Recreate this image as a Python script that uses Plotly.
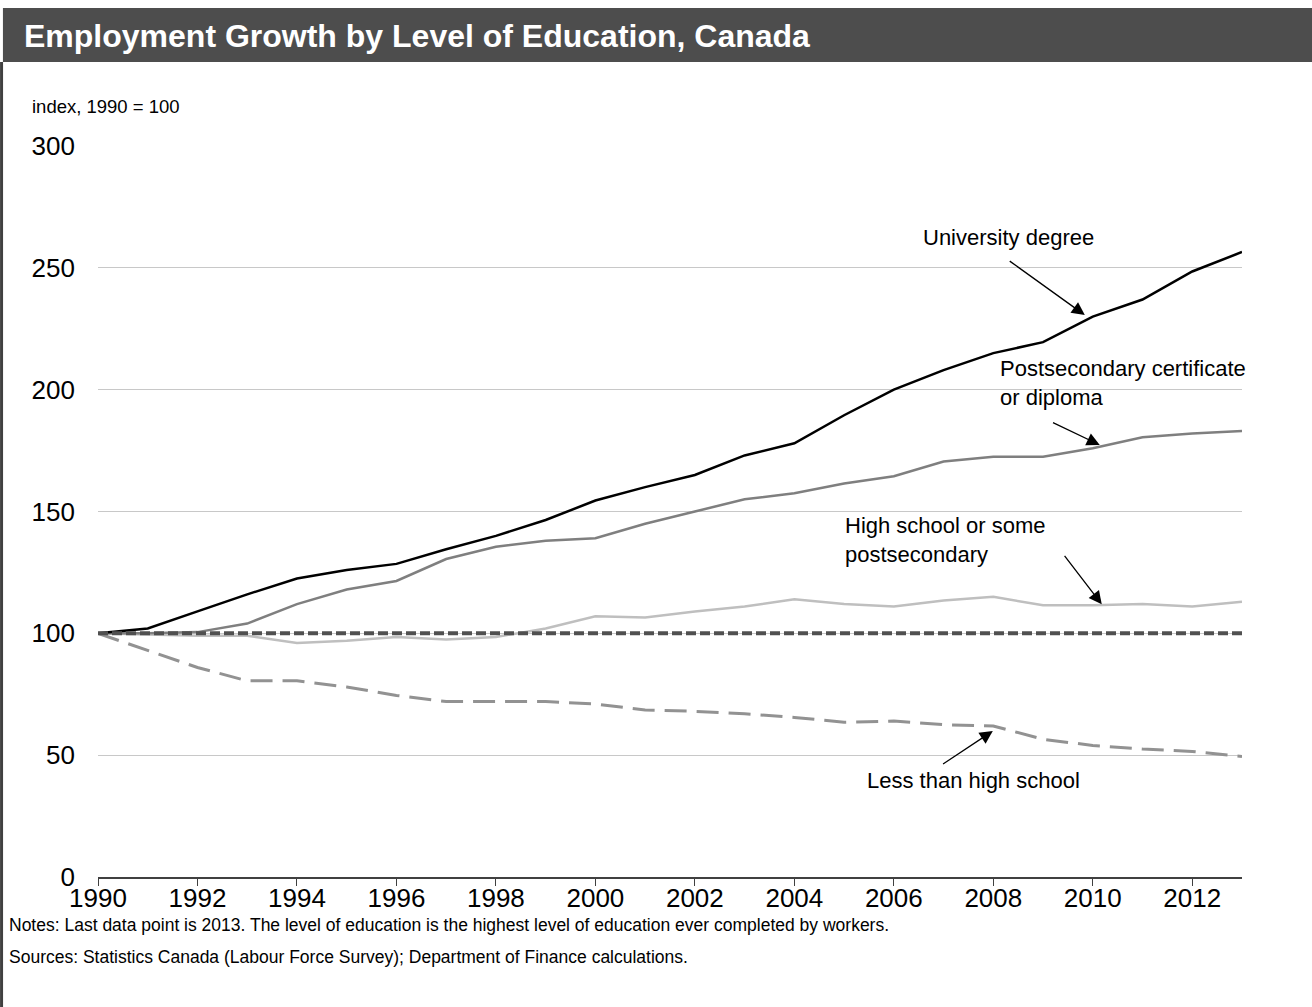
import plotly.graph_objects as go

years = list(range(1990, 2014))
university = [100, 102, 109, 116, 122.5, 126, 128.5, 134.5, 140, 146.5, 154.5, 160, 165,
              173, 178, 189.5, 200, 208, 215, 219.5, 230, 237, 248.5, 256.5]
postsecondary = [100, 100, 100.5, 104, 112, 118, 121.5, 130.5, 135.5, 138, 139, 145, 150,
                 155, 157.5, 161.5, 164.5, 170.5, 172.5, 172.5, 176, 180.5, 182, 183]
high_school = [100, 99.5, 99, 99, 96, 97, 98.5, 97.5, 98.5, 102, 107, 106.5, 109,
               111, 114, 112, 111, 113.5, 115, 111.5, 111.5, 112, 111, 113]
less_than_hs = [100, 93, 86, 80.5, 80.5, 78, 74.5, 72, 72, 72, 71, 68.5, 68,
                67, 65.5, 63.5, 64, 62.5, 62, 56.5, 54, 52.5, 51.5, 49.5]
baseline = [100] * len(years)

x_ticks = list(range(1990, 2013, 2))
y_ticks = [0, 50, 100, 150, 200, 250, 300]

FONT = "Liberation Sans, Arial, sans-serif"

fig = go.Figure()
fig.add_trace(go.Scatter(x=years, y=high_school, mode="lines",
                         line=dict(color="#bfbfbf", width=2.5), name="High school or some postsecondary"))
fig.add_trace(go.Scatter(x=years, y=less_than_hs, mode="lines",
                         line=dict(color="#929292", width=3, dash="22px,10px"), name="Less than high school"))
fig.add_trace(go.Scatter(x=years, y=postsecondary, mode="lines",
                         line=dict(color="#7f7f7f", width=2.5), name="Postsecondary certificate or diploma"))
fig.add_trace(go.Scatter(x=years, y=university, mode="lines",
                         line=dict(color="#000000", width=2.5), name="University degree"))
fig.add_trace(go.Scatter(x=years, y=baseline, mode="lines",
                         line=dict(color="#505050", width=4, dash="10px,4px"), name="Base"))

annotations = []

def label(text, x, y, xanchor="left"):
    annotations.append(dict(x=x, y=y, xref="x", yref="y", text=text, showarrow=False,
                            xanchor=xanchor, yanchor="middle", align="left",
                            font=dict(family=FONT, size=22, color="#000000")))

def arrow(tx, ty, hx, hy):
    annotations.append(dict(x=hx, y=hy, ax=tx, ay=ty, xref="x", yref="y", axref="x", ayref="y",
                            text="", showarrow=True, arrowhead=2, arrowsize=2.0, arrowwidth=1.3,
                            arrowcolor="#000000", standoff=0, startstandoff=0))

label("University degree", 2008.3, 262.6, xanchor="center")
arrow(2008.30, 253.2, 2009.84, 230.6)
label("Postsecondary certificate<br>or diploma", 2008.09, 202.7)
arrow(2009.17, 186.8, 2010.14, 177.3)
label("High school or some<br>postsecondary", 2004.98, 138.3)
arrow(2009.41, 132.4, 2010.18, 111.9)
label("Less than high school", 2007.6, 39.8, xanchor="center")
arrow(2006.96, 46.0, 2007.99, 59.9)

# title and notes (paper coords)
annotations.append(dict(x=-0.0664, y=1.1505, xref="paper", yref="paper", xanchor="left", yanchor="middle",
                        text="<b>Employment Growth by Level of Education, Canada</b>", showarrow=False,
                        font=dict(family=FONT, size=32, color="#ffffff")))
annotations.append(dict(x=-0.0594, y=1.0547, xref="paper", yref="paper", xanchor="left", yanchor="middle",
                        text="index, 1990 = 100", showarrow=False,
                        font=dict(family=FONT, size=18.5, color="#000000")))
annotations.append(dict(x=-0.0795, y=-0.0657, xref="paper", yref="paper", xanchor="left", yanchor="middle",
                        text="Notes: Last data point is 2013. The level of education is the highest level of education ever completed by workers.",
                        showarrow=False, font=dict(family=FONT, size=17.5, color="#000000")))
annotations.append(dict(x=-0.0795, y=-0.1094, xref="paper", yref="paper", xanchor="left", yanchor="middle",
                        text="Sources: Statistics Canada (Labour Force Survey); Department of Finance calculations.",
                        showarrow=False, font=dict(family=FONT, size=17.5, color="#000000")))

shapes = [
    dict(type="rect", xref="paper", yref="paper", x0=-0.0831, x1=1.0612, y0=1.1149, y1=1.1888,
         fillcolor="#4d4d4d", line=dict(width=0), layer="below"),
    dict(type="line", xref="paper", yref="paper", x0=-0.0843, x1=-0.0843, y0=1.1149, y1=-0.1778,
         line=dict(color="#404040", width=3)),
]

fig.update_layout(
    width=1312, height=1007,
    margin=dict(l=98, r=70, t=146, b=130),
    paper_bgcolor="#ffffff", plot_bgcolor="#ffffff",
    showlegend=False,
    font=dict(family=FONT, color="#000000"),
    annotations=annotations,
    shapes=shapes,
    xaxis=dict(range=[1990, 2013], tickvals=x_ticks, ticktext=[str(v) for v in x_ticks],
               showgrid=False, zeroline=False, showline=True, linecolor="#404040", linewidth=2,
               ticks="outside", ticklen=7, tickwidth=1, tickcolor="#404040",
               ticklabelstandoff=-10,
               tickfont=dict(family=FONT, size=26, color="#000000")),
    yaxis=dict(range=[0, 300], tickvals=y_ticks, ticktext=[str(v) for v in y_ticks],
               showgrid=True, gridcolor="#c8c8c8", gridwidth=1, zeroline=False, showline=False,
               ticks="", ticklabelstandoff=22,
               tickfont=dict(family=FONT, size=26, color="#000000")),
)

fig.write_html("out.html", config={"displayModeBar": False},
               post_script="document.body.style.margin='0px'; document.body.style.overflow='hidden';")
